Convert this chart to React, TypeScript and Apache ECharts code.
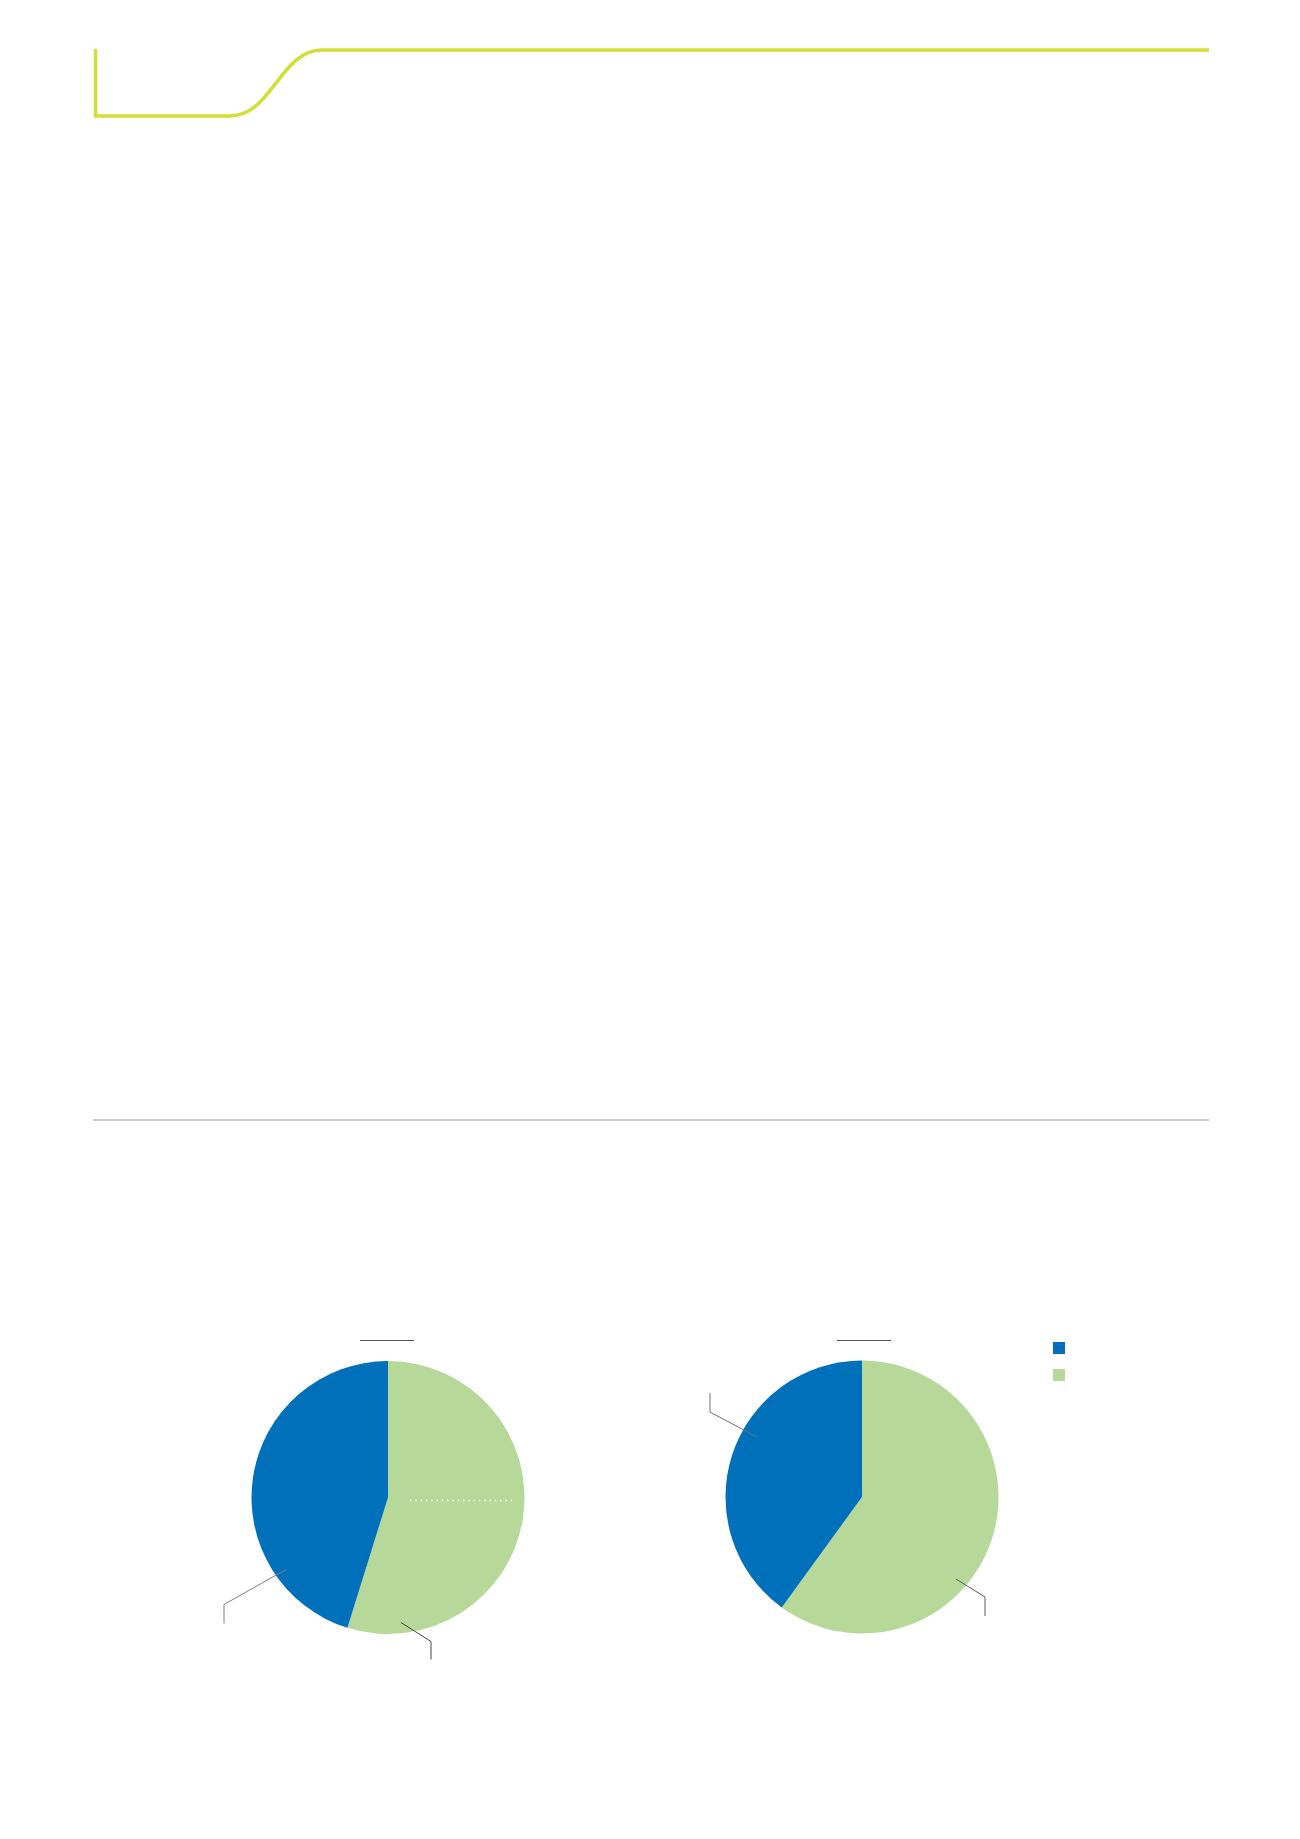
import {useEffect, useRef} from 'react';
import * as echarts from 'echarts';

// shares, clockwise from 12 o'clock
const sliceNames = ['Green share', 'Blue share'];
const legendOrder = ['Blue share', 'Green share'];
const leftPieValues = [54.8, 45.2];
const rightPieValues = [60, 40];

const BLUE = '#0070BA';
const GREEN = '#B6D99A';
const LIME = '#D2DE36';
const LEADER = '#6b6b6b';

const R = 136.5;
const leftCenter = [388, 1497.5];
const rightCenter = [862, 1497];

const line = (pts: number[][], stroke = LEADER, lineWidth = 1, extra = {}) => ({
    type: 'polyline',
    silent: true,
    z: 10,
    shape: {points: pts},
    style: {stroke, lineWidth, fill: 'none', ...extra},
});

const App = () => {
    const chartRef = useRef<HTMLDivElement>(null);

    useEffect(() => {
        const chart = echarts.init(chartRef.current!, null, {renderer: 'svg'});
        const [lx, ly] = leftCenter;
        const [rx, ry] = rightCenter;

        const pie = (center: number[], values: number[]) => ({
            type: 'pie',
            center,
            radius: R,
            startAngle: 90,
            clockwise: true,
            silent: true,
            z: 2,
            label: {show: false},
            labelLine: {show: false},
            emphasis: {disabled: true},
            itemStyle: {borderWidth: 0},
            data: sliceNames.map((name, i) => ({
                name,
                value: values[i],
                itemStyle: {color: i === 0 ? GREEN : BLUE},
            })),
        });

        chart.setOption({
            animation: false,
            backgroundColor: '#ffffff',
            legend: {
                data: legendOrder,
                orient: 'vertical',
                left: 1053,
                top: 1342,
                padding: 0,
                icon: 'rect',
                itemWidth: 12,
                itemHeight: 12,
                itemGap: 15,
                selectedMode: false,
                formatter: () => '',
            },
            series: [pie(leftCenter, leftPieValues), pie(rightCenter, rightPieValues)],
            graphic: [
                // header ribbon
                line([[95.5, 49], [95.5, 116], [230, 116]], LIME, 3.5),
                {
                    type: 'bezierCurve',
                    silent: true,
                    z: 10,
                    shape: {x1: 230, y1: 116, cpx1: 272, cpy1: 116, cpx2: 280, cpy2: 50, x2: 322, y2: 50},
                    style: {stroke: LIME, lineWidth: 3.5, fill: 'none'},
                },
                line([[322, 50], [1209, 50]], LIME, 3.5),
                // separator rule
                line([[93, 1120], [1209, 1120]], '#bdbdbd', 1.5),
                // small rules above the pies
                line([[lx - 28, 1340.5], [lx + 26, 1340.5]], '#555'),
                line([[rx - 25, 1340.5], [rx + 29, 1340.5]], '#555'),
                // leaders, left pie
                line([[lx - 102, ly + 72], [lx - 164, ly + 107], [lx - 164, ly + 126]], '#808080'),
                line([[lx + 13, ly + 125], [lx + 43, ly + 144], [lx + 43, ly + 162]], '#444'),
                line([[lx + 22, ly + 3], [lx + 124, ly + 3]], '#ffffff', 1.4, {lineDash: [1.4, 3.9]}),
                // leaders, right pie
                line([[rx - 105, ry - 60], [rx - 152, ry - 85], [rx - 152, ry - 104]], '#707070'),
                line([[rx + 94, ry + 82], [rx + 123, ry + 100], [rx + 123, ry + 119]], '#5a5a5a'),
            ],
        });

        return () => {
            chart.dispose();
        };
    }, []);

    return (
        <div
            ref={chartRef}
            style={{position: 'absolute', left: 0, top: 0, width: '1300px', height: '1839px'}}
        />
    );
};

export default App;
